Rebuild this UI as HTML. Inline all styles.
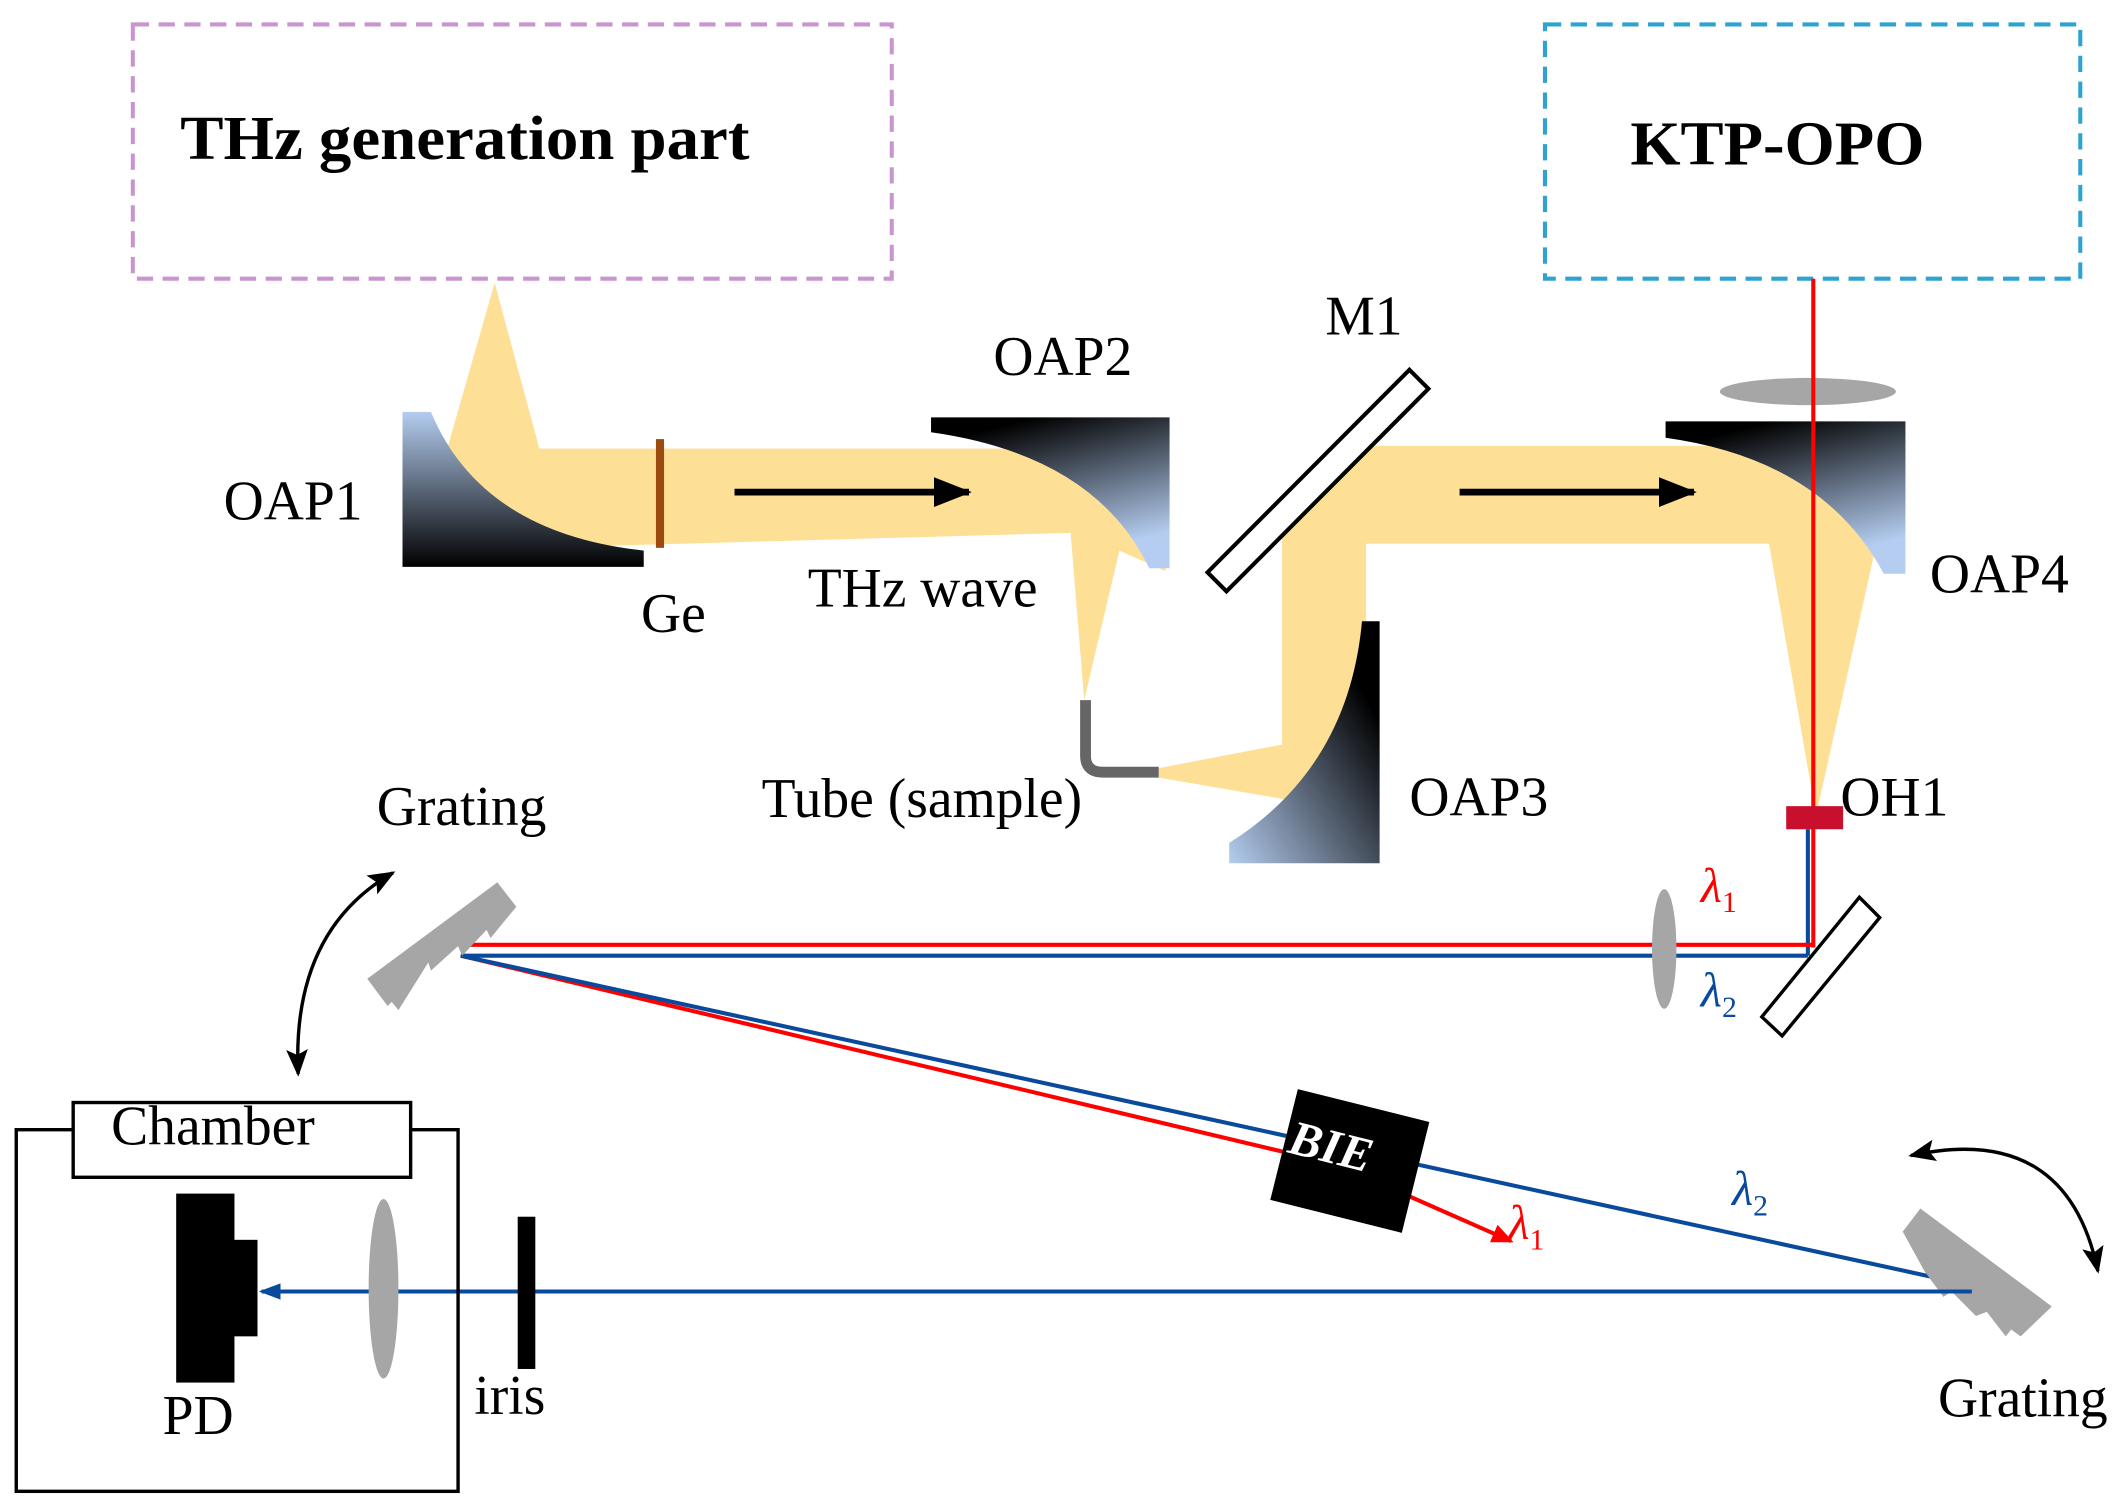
<!DOCTYPE html>
<html><head><meta charset="utf-8"><style>
html,body{margin:0;padding:0;background:#fff;}
svg{display:block;}
text{font-family:"Liberation Serif",serif;}
</style></head><body>
<svg width="2125" height="1509" viewBox="0 0 1568 1110" preserveAspectRatio="none" xmlns="http://www.w3.org/2000/svg">
<defs>
<linearGradient id="g1" x1="0" y1="0" x2="0" y2="1"><stop offset="0" stop-color="#b4cdf0"/><stop offset="1" stop-color="#000"/></linearGradient>
<linearGradient id="g2" x1="0" y1="0" x2="0.4" y2="1"><stop offset="0.15" stop-color="#000"/><stop offset="1" stop-color="#b4cdf0"/></linearGradient>
<linearGradient id="g3" x1="1" y1="0" x2="0" y2="1"><stop offset="0.2" stop-color="#000"/><stop offset="1" stop-color="#b4cdf0"/></linearGradient>
<marker id="ab" markerWidth="20" markerHeight="16" refX="18" refY="8" orient="auto" markerUnits="userSpaceOnUse"><path d="M0,0 L20,8 L0,16 L4,8 Z" fill="#000"/></marker>
<marker id="abs" markerWidth="20" markerHeight="16" refX="2" refY="8" orient="auto" markerUnits="userSpaceOnUse"><path d="M20,0 L0,8 L20,16 L16,8 Z" fill="#000"/></marker>
<marker id="as" markerWidth="28" markerHeight="22" refX="26" refY="11" orient="auto" markerUnits="userSpaceOnUse"><path d="M0,0 L28,11 L0,22 Z" fill="#000"/></marker>
<marker id="ar" markerWidth="16" markerHeight="14" refX="14" refY="7" orient="auto" markerUnits="userSpaceOnUse"><path d="M0,0 L16,7 L0,14 Z" fill="#f00"/></marker>
<marker id="abl" markerWidth="16" markerHeight="14" refX="14" refY="7" orient="auto" markerUnits="userSpaceOnUse"><path d="M0,1 L16,7 L0,13 Z" fill="#0a4a9c"/></marker>
</defs>
<rect width="1568" height="1110" fill="#fff"/>
<!-- dashed boxes -->
<rect x="98" y="18" width="560" height="187" fill="none" stroke="#c895cf" stroke-width="3" stroke-dasharray="12,7"/>
<text x="133" y="117" font-size="46" font-weight="bold" textLength="420" lengthAdjust="spacingAndGlyphs">THz generation part</text>
<rect x="1140" y="18" width="395" height="187" fill="none" stroke="#2ea3d2" stroke-width="3" stroke-dasharray="12,7"/>
<text x="1203" y="121" font-size="46" font-weight="bold" textLength="217" lengthAdjust="spacingAndGlyphs">KTP-OPO</text>
<!-- yellow beams -->
<g fill="#fde096">
<polygon points="365,208 398,330 860,330 860,420 826,405 800,515 790,392 320,405 330,330"/>
<polygon points="855,565 960,545 960,590 855,572"/>
<polygon points="1005,328 1400,328 1400,400 1008,400 1008,470 1000,560 946,580 946,390"/>
<polygon points="1305,398 1385,398 1340,600"/>
</g>
<!-- OAPs -->
<path d="M297,303 L318,303 Q355,392 475,405 L475,417 L297,417 Z" fill="url(#g1)"/>
<path d="M687,307 L863,307 L863,418 L848,418 Q808,335 687,318 Z" fill="url(#g2)"/>
<path d="M1018,457 L1018,635 L907,635 L907,620 Q995,565 1005,457 Z" fill="url(#g3)"/>
<path d="M1229,310 L1406,310 L1406,422 L1390,422 Q1345,338 1229,322 Z" fill="url(#g2)"/>
<!-- Ge -->
<rect x="484" y="323" width="6" height="80" fill="#9b4a10"/>
<!-- arrows -->
<line x1="542" y1="362" x2="715" y2="362" stroke="#000" stroke-width="5" marker-end="url(#as)"/>
<line x1="1077" y1="362" x2="1250" y2="362" stroke="#000" stroke-width="5" marker-end="url(#as)"/>
<!-- tube -->
<path d="M801,515 L801,556 Q801,568 814,568 L855,568" fill="none" stroke="#666" stroke-width="8"/>
<!-- M1 -->
<polygon points="1040,272 1054,286 905,435 891,421" fill="#fff" stroke="#000" stroke-width="3"/>
<!-- lens top -->
<ellipse cx="1334" cy="288" rx="65" ry="10" fill="#a6a6a6"/>
<!-- red / blue lines -->
<line x1="1334" y1="610" x2="1334" y2="703" stroke="#0a4a9c" stroke-width="3"/>
<line x1="1338" y1="205" x2="1338" y2="697" stroke="#f00" stroke-width="3"/>
<line x1="1338" y1="695" x2="345" y2="695" stroke="#f00" stroke-width="3"/>
<line x1="1334" y1="703" x2="340" y2="703" stroke="#0a4a9c" stroke-width="3"/>
<rect x="1318" y="593" width="42" height="17" fill="#c8102e"/>
<ellipse cx="1228" cy="698" rx="9" ry="44" fill="#a6a6a6"/>
<polygon points="1372,660 1387,675 1315,762 1300,748" fill="#fff" stroke="#000" stroke-width="2.5"/>
<!-- diagonal -->
<line x1="340" y1="703" x2="950" y2="848" stroke="#f00" stroke-width="3"/>
<line x1="340" y1="703" x2="1452" y2="945" stroke="#0a4a9c" stroke-width="3"/>
<line x1="1040" y1="880" x2="1115" y2="913" stroke="#f00" stroke-width="3" marker-end="url(#ar)"/>
<!-- BIE -->
<g transform="translate(996,854) rotate(14)"><rect x="-50" y="-42" width="100" height="84" fill="#000"/>
<text x="-47" y="5" font-size="36" font-weight="bold" font-style="italic" fill="#fff">BIE</text></g>
<!-- gratings -->
<g fill="#a6a6a6">
<polygon points="271,720 367,649 381,667 362,690 359,684 341,703 338,696 318,714 316,708 294,743 289,737 286,740"/>
<polygon points="1417,889 1514,961 1491,983 1484,978 1480,983 1466,965 1458,968 1440,950 1434,954 1420,935 1404,906"/>
</g>
<!-- curved arrows -->
<path d="M290,642 Q215,685 220,790" fill="none" stroke="#000" stroke-width="2.5" marker-start="url(#abs)" marker-end="url(#ab)"/>
<path d="M1410,850 Q1525,825 1548,935" fill="none" stroke="#000" stroke-width="2.5" marker-start="url(#abs)" marker-end="url(#ab)"/>
<!-- bottom beam -->
<line x1="1455" y1="950" x2="193" y2="950" stroke="#0a4a9c" stroke-width="3" marker-end="url(#abl)"/>
<rect x="382" y="895" width="13" height="112" fill="#000"/>
<ellipse cx="283" cy="948" rx="11" ry="66" fill="#a6a6a6"/>
<rect x="130" y="878" width="43" height="139" fill="#000"/>
<rect x="170" y="912" width="20" height="71" fill="#000"/>
<!-- chamber -->
<rect x="12" y="831" width="326" height="266" fill="none" stroke="#000" stroke-width="2.5"/>
<rect x="54" y="811" width="249" height="55" fill="#fff" stroke="#000" stroke-width="2.5"/>
<text x="82" y="842" font-size="41">Chamber</text>
<!-- labels -->
<g font-size="41">
<text x="165" y="382">OAP1</text>
<text x="473" y="465">Ge</text>
<text x="596" y="446">THz wave</text>
<text x="733" y="276">OAP2</text>
<text x="978" y="246">M1</text>
<text x="1424" y="436">OAP4</text>
<text x="1040" y="600">OAP3</text>
<text x="1358" y="600">OH1</text>
<text x="562" y="601">Tube (sample)</text>
<text x="278" y="607">Grating</text>
<text x="1430" y="1042">Grating</text>
<text x="120" y="1055">PD</text>
<text x="350" y="1040">iris</text>
</g>
<g font-size="36" font-style="italic">
<text x="1255" y="663" fill="#f00">λ<tspan font-size="22" font-style="normal" dy="8">1</tspan></text>
<text x="1255" y="740" fill="#0a4a9c">λ<tspan font-size="22" font-style="normal" dy="8">2</tspan></text>
<text x="1278" y="886" fill="#0a4a9c">λ<tspan font-size="22" font-style="normal" dy="8">2</tspan></text>
<text x="1113" y="911" fill="#f00">λ<tspan font-size="22" font-style="normal" dy="8">1</tspan></text>
</g>
</svg>
</body></html>
